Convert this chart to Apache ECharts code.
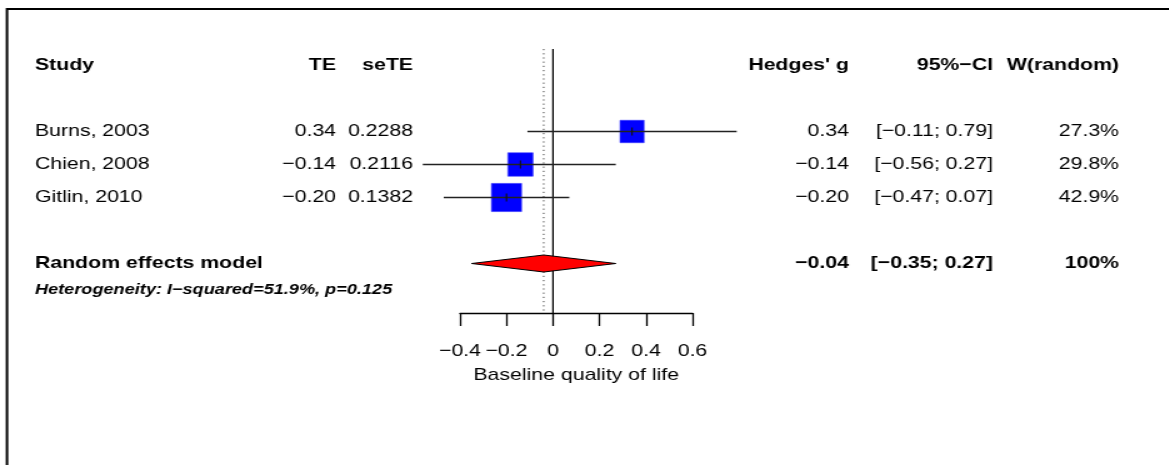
<!DOCTYPE html>
<html>
<head>
<meta charset="utf-8">
<script src="https://cdn.jsdelivr.net/npm/echarts@6/dist/echarts.min.js"></script>
<style>
  html, body { margin: 0; padding: 0; background: #fff; overflow: hidden; }
  /* the plot is laid out on a narrower canvas and widened, like the original device output */
  #chart { width: 935px; height: 465px; transform: scaleX(1.25); transform-origin: 0 0; }
</style>
</head>
<body>
<div id="chart"></div>
<script>
// ---- study data (Hedges' g, random effects) ----
const studies = ['Burns, 2003', 'Chien, 2008', 'Gitlin, 2010'];
const te      = [0.34, -0.14, -0.20];
const seTE    = ['0.2288', '0.2116', '0.1382'];
const ciLow   = [-0.11, -0.56, -0.47];
const ciHigh  = [0.79, 0.27, 0.07];
const weights = [27.3, 29.8, 42.9];

// pooled random effects estimate
const pooledEst  = -0.04;
const pooledLow  = -0.35;
const pooledHigh = 0.27;

const headers = ['Study', 'TE', 'seTE', "Hedges' g", '95%\u2212CI', 'W(random)'];
const modelLabel = 'Random effects model';
const hetText = 'Heterogeneity: I\u2212squared=51.9%, p=0.125';
const axisTitle = 'Baseline quality of life';
const axisMin = -0.4, axisMax = 0.6, axisStep = 0.2;

// ---- layout ----
const FONT = '"Liberation Sans", Arial, Helvetica, sans-serif';
const FS = 17;
// text column anchors (x in canvas px) and alignment
const cols = [
  { x: 28,    align: 'left'  },
  { x: 268.8, align: 'right' },
  { x: 330.4, align: 'right' },
  { x: 679.2, align: 'right' },
  { x: 794.4, align: 'right' },
  { x: 895.2, align: 'right' }
];
// row positions on the (hidden) vertical axis
const headerRow = -1, firstStudyRow = 1, modelRow = 5, hetRow = 5.8;

const fmt = v => (v < 0 ? '\u2212' : '') + Math.abs(v).toFixed(2);
const fmtCI = (a, b) => '[' + fmt(a) + '; ' + fmt(b) + ']';

const tableRows = [{ row: headerRow, bold: true, cells: headers }];
studies.forEach((s, i) => {
  tableRows.push({
    row: firstStudyRow + i, bold: false,
    cells: [s, fmt(te[i]), seTE[i], fmt(te[i]), fmtCI(ciLow[i], ciHigh[i]), weights[i].toFixed(1) + '%']
  });
});
tableRows.push({
  row: modelRow, bold: true,
  cells: [modelLabel, '', '', fmt(pooledEst), fmtCI(pooledLow, pooledHigh), '100%']
});

const studyData = studies.map((s, i) => [te[i], firstStudyRow + i, ciLow[i], ciHigh[i], weights[i]]);

const chart = echarts.init(document.getElementById('chart'), null, { renderer: 'canvas' });

chart.setOption({
  animation: false,
  backgroundColor: '#fff',
  grid: { left: 368, width: 186, top: 49, height: 264 },
  xAxis: {
    type: 'value',
    min: axisMin, max: axisMax, interval: axisStep,
    position: 'bottom',
    axisLine: { show: true, onZero: false, lineStyle: { color: '#000', width: 1.3 } },
    axisTick: { show: true, length: 13, lineStyle: { color: '#000', width: 1.3 } },
    splitLine: { show: false },
    axisLabel: {
      margin: 30, color: '#000', fontSize: FS, fontFamily: FONT,
      formatter: v => (Math.abs(v) < 1e-9 ? '0' : (v < 0 ? '\u2212' : '') + Math.abs(v).toFixed(1))
    },
    name: axisTitle, nameLocation: 'middle', nameGap: 54,
    nameTextStyle: { color: '#000', fontSize: FS, fontFamily: FONT }
  },
  yAxis: { type: 'value', inverse: true, min: -1.5, max: 6.5, show: false },
  graphic: [{
    type: 'polyline', silent: true,
    shape: { points: [[5.6, 470], [5.6, 9], [940, 9]] },
    style: { stroke: '#000', lineWidth: 2, fill: null }
  }],
  series: [
    // line of no effect
    {
      type: 'line', data: [[0, -1.5], [0, 6.5]], symbol: 'none',
      lineStyle: { color: '#000', width: 1.2 }, z: 2
    },
    // pooled estimate reference line
    {
      type: 'line', data: [[pooledEst, -1.5], [pooledEst, 6.5]], symbol: 'none',
      lineStyle: { color: '#444', width: 1, type: [1.2, 3] }, z: 2
    },
    // study squares and confidence intervals
    {
      type: 'custom', clip: false, z: 5,
      data: studyData,
      renderItem: (params, api) => {
        const est = api.value(0), row = api.value(1);
        const c = api.coord([est, row]);
        const lo = api.coord([api.value(2), row]);
        const hi = api.coord([api.value(3), row]);
        const side = Math.sqrt(api.value(4));
        const w = 3.68 * side, h = 4.3 * side;
        return {
          type: 'group',
          children: [
            { type: 'rect', shape: { x: c[0] - w / 2, y: c[1] - h / 2, width: w, height: h },
              style: { fill: '#0000ff', stroke: '#3a3aff', lineWidth: 0.6 } },
            { type: 'line', shape: { x1: lo[0], y1: c[1], x2: hi[0], y2: c[1] },
              style: { stroke: '#222', lineWidth: 1.3 } },
            { type: 'line', shape: { x1: c[0], y1: c[1] - 4, x2: c[0], y2: c[1] + 4 },
              style: { stroke: '#111', lineWidth: 1.1 } }
          ]
        };
      }
    },
    // pooled diamond
    {
      type: 'custom', clip: false, z: 5,
      data: [[pooledEst, modelRow, pooledLow, pooledHigh]],
      renderItem: (params, api) => {
        const row = api.value(1);
        const c = api.coord([api.value(0), row]);
        const lo = api.coord([api.value(2), row]);
        const hi = api.coord([api.value(3), row]);
        const hh = 8.5;
        return {
          type: 'polygon',
          shape: { points: [[lo[0], c[1]], [c[0], c[1] - hh], [hi[0], c[1]], [c[0], c[1] + hh]] },
          style: { fill: '#ff0000', stroke: '#000', lineWidth: 1 }
        };
      }
    },
    // table text
    {
      type: 'custom', clip: false, z: 6,
      data: tableRows.map(r => [0, r.row]),
      renderItem: (params, api) => {
        const r = tableRows[params.dataIndex];
        const y = api.coord([0, api.value(1)])[1];
        const weight = r.bold ? 'bold ' : '';
        return {
          type: 'group',
          children: r.cells.map((t, k) => ({
            type: 'text', x: cols[k].x, y: y,
            style: {
              text: t, fill: '#000', align: cols[k].align, verticalAlign: 'middle',
              font: weight + FS + 'px ' + FONT
            }
          }))
        };
      }
    },
    // heterogeneity note
    {
      type: 'custom', clip: false, z: 6,
      data: [[0, hetRow]],
      renderItem: (params, api) => {
        const y = api.coord([0, api.value(1)])[1];
        return {
          type: 'text', x: cols[0].x, y: y,
          style: { text: hetText, fill: '#000', align: 'left', verticalAlign: 'middle',
                   font: 'italic bold 14.5px ' + FONT }
        };
      }
    }
  ]
});
</script>
</body>
</html>
